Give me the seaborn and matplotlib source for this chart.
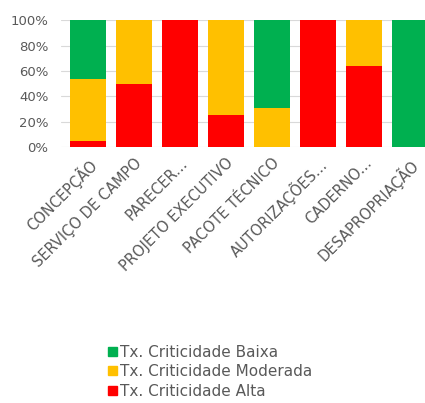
import matplotlib
matplotlib.use("Agg")
import matplotlib.pyplot as plt
import seaborn as sns
import pandas as pd
import numpy as np
from matplotlib.patches import Patch
from matplotlib.ticker import PercentFormatter

categories = ["CONCEPÇÃO", "SERVIÇO DE CAMPO", "PARECER...", "PROJETO EXECUTIVO",
              "PACOTE TÉCNICO", "AUTORIZAÇÕES...", "CADERNO...", "DESAPROPRIAÇÃO"]
alta = [5, 50, 100, 25, 0, 100, 64, 0]
moderada = [49, 50, 0, 75, 31, 0, 36, 0]
baixa = [46, 0, 0, 0, 69, 0, 0, 100]
series_names = ["Tx. Criticidade Baixa", "Tx. Criticidade Moderada", "Tx. Criticidade Alta"]
colors = {"Tx. Criticidade Baixa": "#00B050",
          "Tx. Criticidade Moderada": "#FFC000",
          "Tx. Criticidade Alta": "#FF0000"}

sns.set_theme(style="white")
plt.rcParams['font.family'] = ['DejaVu Sans']

df = pd.DataFrame({"cat": categories, "alta": alta, "moderada": moderada, "baixa": baixa})
df["c_alta"] = df["alta"]
df["c_mod"] = df["alta"] + df["moderada"]
df["c_baixa"] = df["c_mod"] + df["baixa"]

fig = plt.figure(figsize=(4.25, 4.03), dpi=100)
ax = fig.add_axes([0.1435, 0.635, 0.8565, 0.315])

grey = "#595959"
for col, name in [("c_baixa", series_names[0]), ("c_mod", series_names[1]), ("c_alta", series_names[2])]:
    sns.barplot(data=df, x="cat", y=col, color=colors[name], width=0.78,
                saturation=1, ax=ax, zorder=3, linewidth=0)

ax.set_ylim(0, 100)
ax.set_xlim(-0.58, 7.33)
ax.set_yticks([0, 20, 40, 60, 80, 100])
ax.yaxis.set_major_formatter(PercentFormatter(decimals=0))
ax.grid(axis="y", color="#D9D9D9", linewidth=0.8, zorder=0)
ax.set_xlabel("")
ax.set_ylabel("")
for s in ax.spines.values():
    s.set_visible(False)
ax.tick_params(axis="both", length=0, colors=grey)
ax.tick_params(axis="y", pad=9, labelsize=9.5)
ax.set_xticks(range(len(categories)))
ax.set_xticklabels(categories, rotation=45, ha="right", rotation_mode="anchor",
                   fontsize=10.5, color=grey)
ax.tick_params(axis="x", pad=6)

handles = [Patch(color=colors[n]) for n in series_names]
fig.legend(handles, series_names, loc="upper left", bbox_to_anchor=(0.24, 0.16),
           frameon=False, fontsize=11, handlelength=0.55, handleheight=0.55,
           handletextpad=0.2, labelspacing=0.3, labelcolor=grey, borderaxespad=0)

fig.savefig("out.png", dpi=100)
